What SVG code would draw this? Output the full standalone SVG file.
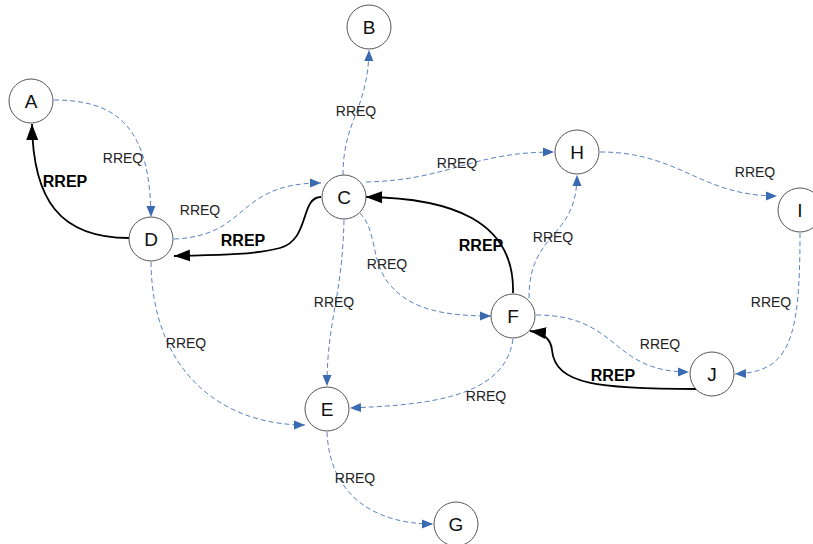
<svg xmlns="http://www.w3.org/2000/svg" width="813" height="544" viewBox="0 0 813 544">
<defs>
<style>
.node circle{fill:#fff;stroke:#555;stroke-width:1}
.node text{font-family:"Liberation Sans",Arial,sans-serif;font-size:19px;fill:#111;text-anchor:middle}
.req{fill:none;stroke:#5a83c3;stroke-width:1;stroke-dasharray:5,3;marker-end:url(#ab)}
.rep{fill:none;stroke:#000;stroke-width:1.8;marker-end:url(#ak)}
.lq{font-family:"Liberation Sans",Arial,sans-serif;font-size:14px;fill:#222;text-anchor:middle}
.lp{font-family:"Liberation Sans",Arial,sans-serif;font-size:16px;font-weight:bold;fill:#000;text-anchor:middle}
</style>
<marker id="ab" markerUnits="userSpaceOnUse" markerWidth="12" markerHeight="10" refX="11" refY="5" orient="auto">
<path d="M0,0.5 L11,5 L0,9.5 Z" fill="#3a6ab0"/>
</marker>
<marker id="ak" markerUnits="userSpaceOnUse" markerWidth="17" markerHeight="13" refX="16" refY="6.5" orient="auto">
<path d="M0,0.5 L16,6.5 L0,12.5 Z" fill="#000"/>
</marker>
</defs>
<rect width="813" height="544" fill="#fff"/>
<g id="connectors">
<path class="req" d="M54,100 C120,100 150,130 151,217"/>
<path class="req" d="M174,239 C250,236 235,183 321,183"/>
<path class="req" d="M343,175 C343,120 368,110 369,50"/>
<path class="req" d="M366,182 C450,180 470,152 554,152"/>
<path class="req" d="M600,152 C680,152 700,196 777,196"/>
<path class="req" d="M800,233 C800,340 790,372 735,374"/>
<path class="req" d="M360,213 C378,232 370,262 390,285 S440,316 491,316"/>
<path class="req" d="M529,298 C529,230 577,240 577,175"/>
<path class="req" d="M536,315 C620,315 610,372 689,372"/>
<path class="req" d="M513,339 C505,400 420,405 350,408"/>
<path class="req" d="M344,220 C342,300 327,320 327,386"/>
<path class="req" d="M151,262 C152,370 220,425 305,425"/>
<path class="req" d="M327,432 C330,500 380,524 433,524"/>
<path class="rep" d="M129,238 C60,238 33,200 32,124"/>
<path class="rep" d="M321,197 C300,197 310,240 280,248 S200,255 174,256"/>
<path class="rep" d="M513,293 C515,220 450,198 366,197"/>
<path class="rep" d="M697,389 C600,389 555,385 552,350 C551,340 545,333 530,331"/>
<text class="lq" x="123" y="163">RREQ</text>
<text class="lq" x="200" y="215">RREQ</text>
<text class="lq" x="356" y="116">RREQ</text>
<text class="lq" x="457" y="168">RREQ</text>
<text class="lq" x="755" y="177">RREQ</text>
<text class="lq" x="771" y="307">RREQ</text>
<text class="lq" x="387" y="269">RREQ</text>
<text class="lq" x="553" y="242">RREQ</text>
<text class="lq" x="660" y="349">RREQ</text>
<text class="lq" x="486" y="401">RREQ</text>
<text class="lq" x="334" y="307">RREQ</text>
<text class="lq" x="186" y="348">RREQ</text>
<text class="lq" x="355" y="483">RREQ</text>
<text class="lp" x="65" y="187">RREP</text>
<text class="lp" x="243" y="246">RREP</text>
<text class="lp" x="481" y="251">RREP</text>
<text class="lp" x="613" y="381">RREP</text>
</g>
<g id="A" class="node"><circle cx="31" cy="101" r="22"/><text x="31" y="108">A</text></g>
<g id="B" class="node"><circle cx="369" cy="27" r="22"/><text x="369" y="34">B</text></g>
<g id="C" class="node"><circle cx="344" cy="197" r="22"/><text x="344" y="204">C</text></g>
<g id="D" class="node"><circle cx="151" cy="239" r="22"/><text x="151" y="246">D</text></g>
<g id="E" class="node"><circle cx="327" cy="409" r="22"/><text x="327" y="416">E</text></g>
<g id="F" class="node"><circle cx="513" cy="316" r="22"/><text x="513" y="323">F</text></g>
<g id="G" class="node"><circle cx="456" cy="524" r="22"/><text x="456" y="531">G</text></g>
<g id="H" class="node"><circle cx="577" cy="152" r="22"/><text x="577" y="159">H</text></g>
<g id="I" class="node"><circle cx="800" cy="210" r="22"/><text x="800" y="217">I</text></g>
<g id="J" class="node"><circle cx="712" cy="374" r="22"/><text x="712" y="381">J</text></g>
</svg>
